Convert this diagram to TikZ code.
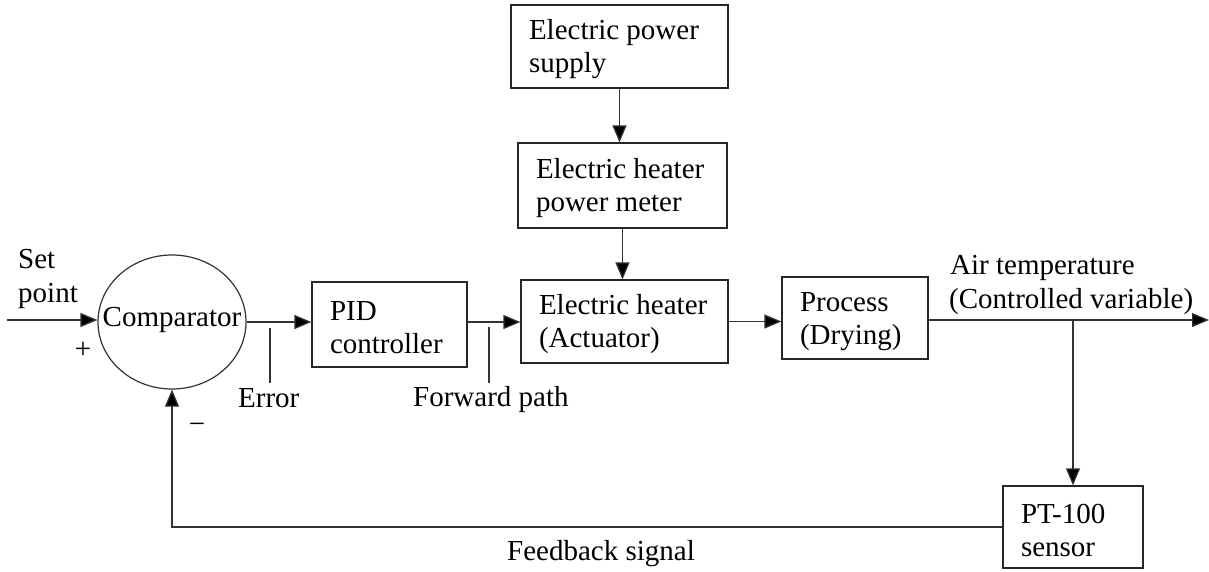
\documentclass[tikz,border=0pt]{standalone}
\usepackage{fontspec}
\setmainfont{Liberation Serif}
\usetikzlibrary{shapes.geometric,arrows.meta,calc}
\newcommand{\tstrut}{\rule{0pt}{26pt}}
\begin{document}
\begin{tikzpicture}[x=1pt,y=-1pt,
  every node/.style={font=\fontsize{29}{33}\selectfont, text=black},
  box/.style={draw=black!85, line width=1.2pt, align=flush left, inner xsep=18pt, inner ysep=0pt},
  arr/.style={draw=black!80, line width=1.2pt, -{Triangle[length=17pt,width=14pt,fill=black]}},
  ln/.style={draw=black!80, line width=1.2pt},
  lbl/.style={anchor=base west, inner sep=0pt}]
\useasboundingbox (0,0) rectangle (1209,571);
% blocks
\node[box, text width=181pt, minimum height=83pt] (supply) at (619.5,46.5) {\tstrut Electric power\\supply};
\node[box, text width=173pt, minimum height=85pt] (meter) at (622.5,185.5) {\tstrut Electric heater\\power meter};
\node[box, text width=171pt, minimum height=83pt] (heater) at (624.5,321.5) {\tstrut Electric heater\\(Actuator)};
\node[box, text width=119pt, minimum height=85pt] (pid) at (389.5,324.5) {\tstrut PID\\controller};
\node[box, text width=110pt, minimum height=82pt] (process) at (855,318) {\tstrut Process\\(Drying)};
\node[box, text width=104pt, minimum height=82pt] (sensor) at (1073,527) {\tstrut PT-100\\sensor};
\node[ellipse, draw=black!80, line width=1.2pt, minimum width=148pt, minimum height=134pt, inner sep=0pt] (cmp) at (172,322) {};
\node (cmptext) at (172,320) {Comparator};
% free ends
\coordinate (in) at (7,320);
\coordinate (out) at (1209,320);
\coordinate (br) at (1073,320);
\coordinate (errtop) at (270,328);
\coordinate (errbot) at (270,383);
\coordinate (fwdtop) at (489,327);
\coordinate (fwdbot) at (489,383);
% connectors
\draw[arr] (supply.south) -- (supply.south |- meter.north);
\draw[arr] (meter.south) -- (meter.south |- heater.north);
\draw[arr] (in) -- (in -| cmp.west);
\draw[arr] (cmp.east) -- (cmp.east -| pid.west);
\draw[arr] (pid.east |- cmp.east) -- (heater.west |- cmp.east);
\draw[arr] (heater.east) -- (heater.east -| process.west);
\draw[arr] (process.east |- out) -- (out);
\draw[arr] (br) -- (sensor.north);
\draw[arr] (sensor.west) -| (cmp.south);
\draw[ln] (errtop) -- (errbot);
\draw[ln] (fwdtop) -- (fwdbot);
% labels
\node[lbl] (set1) at (18,268) {Set};
\node[lbl] (set2) at (18,302) {point};
\node (plus) at (83,350) {+};
\node (minus) at (197,428) {−};
\node[lbl] (err) at (238,407) {Error};
\node[lbl] (fwd) at (413,406) {Forward path};
\node[lbl] (fb) at (507,560) {Feedback signal};
\node[lbl] (air1) at (950,274) {Air temperature};
\node[lbl] (air2) at (949,308) {(Controlled variable)};
\end{tikzpicture}
\end{document}
